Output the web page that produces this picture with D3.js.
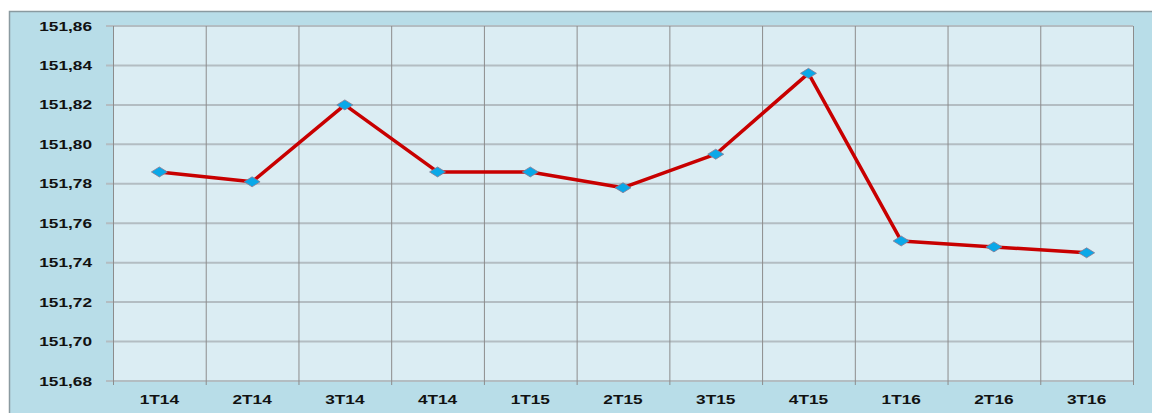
<!DOCTYPE html>
<html>
<head>
<meta charset="utf-8">
<script src="https://cdn.jsdelivr.net/npm/d3@7"></script>
<style>
body { margin: 0; background: #fff; }
text { font-family: "Liberation Sans", Arial, sans-serif; font-weight: bold; font-size: 12.5px; fill: #111; }
</style>
</head>
<body>
<svg width="1152" height="413"></svg>
<script>
// quarters and values
var quarters = ["1T14","2T14","3T14","4T14","1T15","2T15","3T15","4T15","1T16","2T16","3T16"]
var values = [151.786, 151.781, 151.820, 151.786, 151.786, 151.778, 151.795, 151.836, 151.751, 151.748, 151.745]
var yTicks = [151.68, 151.70, 151.72, 151.74, 151.76, 151.78, 151.80, 151.82, 151.84, 151.86]

var svg = d3.select("svg"),
	width = +svg.attr("width"),
	height = +svg.attr("height")

var plot = {left: 113, top: 26, right: 1133, bottom: 381}
var stretch = 1.38 // labels in the picture are drawn wide

// outer panel
svg.append("rect")
	.attr("x", 9.5).attr("y", 11.5)
	.attr("width", width).attr("height", height)
	.style("fill", "#b8dde8")
	.style("stroke", "#8a9aa0").style("stroke-width", 1.5)

svg.append("rect")
	.attr("x", plot.left).attr("y", plot.top)
	.attr("width", plot.right - plot.left).attr("height", plot.bottom - plot.top)
	.style("fill", "#dbedf3")

var x = d3.scaleBand().domain(quarters).range([plot.left, plot.right])
var y = d3.scaleLinear().domain([151.68, 151.86]).range([plot.bottom, plot.top])

// horizontal gridlines
svg.append("g").selectAll("line").data(yTicks).enter().append("line")
	.attr("x1", plot.left - 7).attr("x2", plot.right)
	.attr("y1", (d) => y(d)).attr("y2", (d) => y(d))
	.style("stroke", "#b3bdc2").style("stroke-width", 2)

// vertical gridlines at band edges
var edges = quarters.map((q) => x(q)).concat([plot.right])
svg.append("g").selectAll("line").data(edges).enter().append("line")
	.attr("x1", (d) => d + 0.5).attr("x2", (d) => d + 0.5)
	.attr("y1", plot.top).attr("y2", plot.bottom + 4)
	.style("stroke", "#8c8c8c").style("stroke-width", 1)

// y labels
var fmt = d3.format(".2f")
svg.append("g").selectAll("text").data(yTicks).enter().append("text")
	.attr("transform", (d) => "translate(92," + (y(d) + 4.5) + ") scale(" + stretch + ",1)")
	.attr("text-anchor", "end")
	.text((d) => fmt(d).replace(".", ","))

// x labels
svg.append("g").selectAll("text").data(quarters).enter().append("text")
	.attr("transform", (d) => "translate(" + (x(d) + x.bandwidth() / 2) + ",404) scale(" + stretch + ",1)")
	.attr("text-anchor", "middle")
	.text((d) => d)

var line = d3.line()
	.x((d, i) => x(quarters[i]) + x.bandwidth() / 2)
	.y((d) => y(d))

svg.append("path").datum(values)
	.attr("d", line)
	.style("fill", "none").style("stroke", "#c80000").style("stroke-width", 3.5)
	.style("stroke-linejoin", "round")

// diamond markers
svg.append("g").selectAll("path").data(values).enter().append("path")
	.attr("transform", (d, i) => "translate(" + (x(quarters[i]) + x.bandwidth() / 2) + "," + y(d) + ")")
	.attr("d", "M-8,0L0,-5L8,0L0,5Z")
	.style("fill", "#0aa8e8").style("stroke", "#8a7a90").style("stroke-width", 0.8)
</script>
</body>
</html>
